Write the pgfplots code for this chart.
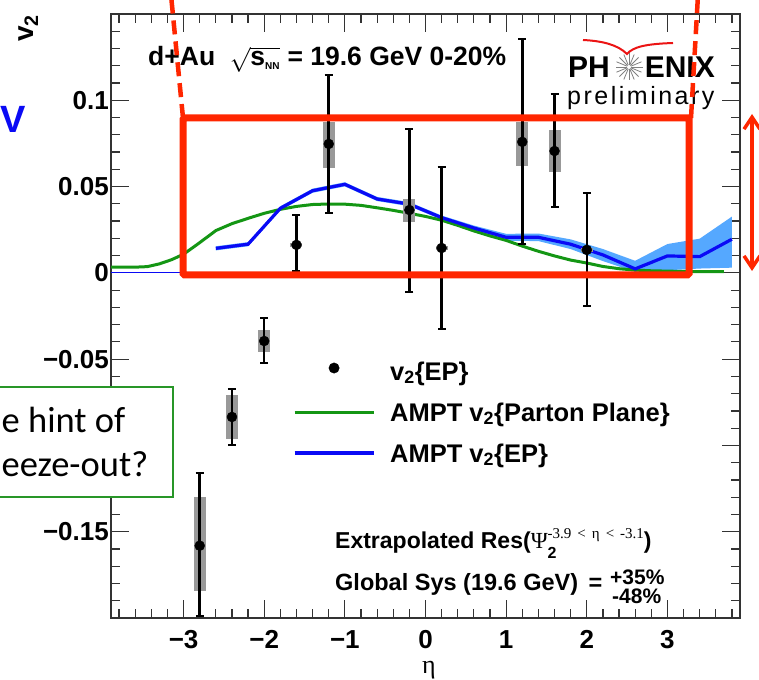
\documentclass[border=0pt]{standalone}
\usepackage{pgfplots}
\pgfplotsset{compat=1.18}
\usepackage{pgfplotstable}
\usepackage{fontspec}
\setmainfont{Liberation Sans}
\newfontfamily\timesfont{Liberation Serif}
\newfontfamily\calibrifont{Carlito}
\newfontfamily\prelimfont{Liberation Sans}[LetterSpace=10]
\usetikzlibrary{arrows.meta}

\definecolor{rootgreen}{RGB}{20,150,20}
\definecolor{rootblue}{RGB}{10,10,245}
\definecolor{bandblue}{RGB}{85,168,255}
\definecolor{annred}{RGB}{255,38,0}
\definecolor{logored}{RGB}{235,20,20}
\definecolor{boxgreen}{RGB}{40,150,40}

% x  y  stat+  stat-  sys+  sys-
\pgfplotstableread{
x    y       ep      em      sp      sm
-2.8 -0.1581 0.0423  0.0406  0.0284  0.0262
-2.4 -0.0835 0.0162  0.0162  0.0128  0.0127
-2.0 -0.0395 0.0135  0.0125  0.0065  0.0065
-1.6  0.0162 0.0174  0.0151  0.0010  0.0010
-1.2  0.0747 0.0400  0.0400  0.0127  0.0139
-0.2  0.0364 0.0470  0.0474  0.0064  0.0069
 0.2  0.0144 0.0470  0.0469  0.0010  0.0010
 1.2  0.0759 0.0596  0.0591  0.0115  0.0140
 1.6  0.0706 0.0331  0.0324  0.0121  0.0121
 2.0  0.0133 0.0330  0.0325  0.0010  0.0010
}\dataEP

\begin{document}
\begin{tikzpicture}
\path[use as bounding box] (0pt,0pt) rectangle (759pt,679pt);
\clip (0pt,0pt) rectangle (759pt,679pt);
\begin{axis}[
  at={(111pt,61pt)}, anchor=south west,
  scale only axis, width=629pt, height=604pt,
  xmin=-3.9, xmax=3.9, ymin=-0.2, ymax=0.15,
  xtick={-3,-2,-1,0,1,2,3},
  xticklabels={−3,−2,−1,0,1,2,3},
  ytick={-0.15,-0.1,-0.05,0,0.05,0.1},
  yticklabels={−0.15,,−0.05,0,0.05,0.1},
  minor xtick={-3.8,-3.6,-3.4,-3.2,-2.8,-2.6,-2.4,-2.2,-1.8,-1.6,-1.4,-1.2,-0.8,-0.6,-0.4,-0.2,0.2,0.4,0.6,0.8,1.2,1.4,1.6,1.8,2.2,2.4,2.6,2.8,3.2,3.4,3.6,3.8},
  minor ytick={-0.19,-0.18,-0.17,-0.16,-0.14,-0.13,-0.12,-0.11,-0.09,-0.08,-0.07,-0.06,-0.04,-0.03,-0.02,-0.01,0.01,0.02,0.03,0.04,0.06,0.07,0.08,0.09,0.11,0.12,0.13,0.14},
  tick align=inside, tick pos=both,
  major tick length=18pt, minor tick length=9pt,
  axis line style={black!80, line width=1.5pt},
  tick style={black!80, line width=1.2pt},
  xticklabel style={inner sep=0pt, yshift=-12pt, font=\bfseries\fontsize{26}{26}\selectfont},
  yticklabel style={inner sep=0pt, xshift=-2pt, font=\bfseries\fontsize{26}{26}\selectfont},
  legend style={draw=none, fill=none, inner sep=0pt, outer sep=0pt,
     at={(0.2893,0.4238)}, anchor=north west,
     column sep=15pt, row sep=17pt,
     cells={anchor=base west},
     nodes={inner sep=0pt, text height=18pt, text depth=6pt,
            font=\bfseries\fontsize{25.5}{25.5}\selectfont}},
]
% legend entries
\addlegendimage{legend image code/.code={\fill[black] (39.5pt,12pt) circle (5.2pt);}}
\addlegendentry{v\textsubscript{2}\{EP\}}
\addlegendimage{legend image code/.code={\draw[rootgreen, line width=3pt] (0pt,9pt) -- (79pt,9pt);}}
\addlegendentry{AMPT v\textsubscript{2}\{Parton Plane\}}
\addlegendimage{legend image code/.code={\draw[rootblue, line width=3.2pt] (0pt,9pt) -- (79pt,9pt);}}
\addlegendentry{AMPT v\textsubscript{2}\{EP\}}

% AMPT v2{EP} uncertainty band
\addplot[forget plot, fill=bandblue, draw=none] coordinates {
 (-2.6,0.0154) (-2.2,0.0178) (-1.8,0.0386) (-1.4,0.0488) (-1.0,0.0525) (-0.6,0.0440)
 (-0.2,0.0410) (0.2,0.0332) (0.6,0.0274) (1.0,0.0226) (1.4,0.0228) (1.8,0.0194)
 (2.2,0.0138) (2.6,0.0070) (3.0,0.0167) (3.4,0.0198) (3.8,0.0326)
 (3.8,0.0030) (3.4,0.0025) (3.0,0.0015) (2.6,0.0006) (2.2,0.0068) (1.8,0.0138)
 (1.4,0.0184) (1.0,0.0186) (0.6,0.0246) (0.2,0.0308) (-0.2,0.0386) (-0.6,0.0416)
 (-1.0,0.0501) (-1.4,0.0464) (-1.8,0.0362) (-2.2,0.0154) (-2.6,0.0130)
} -- cycle;

% AMPT v2{Parton Plane}
\addplot[forget plot, rootgreen, line width=3pt] coordinates {
 (-3.9,0.0033) (-3.6,0.0033) (-3.45,0.0036) (-3.3,0.0052) (-3.15,0.0076) (-3.0,0.0108)
 (-2.8,0.0175) (-2.6,0.0245) (-2.4,0.0285) (-2.2,0.0316) (-2.0,0.0345) (-1.8,0.0368)
 (-1.6,0.0385) (-1.4,0.0396) (-1.2,0.0399) (-1.0,0.0398) (-0.8,0.0391) (-0.6,0.0377)
 (-0.4,0.0362) (-0.2,0.0345) (0.0,0.0327) (0.2,0.0305) (0.4,0.0275) (0.6,0.0243)
 (0.8,0.0214) (1.0,0.0188) (1.2,0.0155) (1.4,0.0125) (1.6,0.0098) (1.8,0.0074)
 (2.0,0.0057) (2.2,0.0037) (2.4,0.0024) (2.6,0.0016) (2.8,0.0012) (3.2,0.0008) (3.7,0.0007)
};

% AMPT v2{EP}
\addplot[forget plot, rootblue, line width=1.2pt] coordinates {(-3.9,0) (-2.6,0)};
\addplot[forget plot, rootblue, line width=3.2pt] coordinates {
 (-2.6,0.0142) (-2.2,0.0166) (-1.8,0.0374) (-1.4,0.0476) (-1.0,0.0513) (-0.6,0.0428)
 (-0.2,0.0398) (0.2,0.0320) (0.6,0.0260) (1.0,0.0206) (1.4,0.0206) (1.8,0.0166)
 (2.2,0.0104) (2.6,0.0023) (3.0,0.0098) (3.4,0.0094) (3.8,0.0195)
};

% systematic boxes
\addplot[forget plot, only marks, mark=none,
  error bars/.cd, y dir=both, y explicit, error mark=none,
  error bar style={line width=12pt, black!40}]
  table[x=x, y=y, y error plus=sp, y error minus=sm] {\dataEP};
% data with statistical errors
\addplot[forget plot, only marks, mark=*, mark size=5pt, black,
  error bars/.cd, y dir=both, y explicit,
  error bar style={line width=2.5pt, black},
  error mark options={rotate=90, mark size=4pt, line width=2pt, black}]
  table[x=x, y=y, y error plus=ep, y error minus=em] {\dataEP};
\end{axis}

% axis titles
\node[rotate=90, anchor=base west, inner sep=0pt, font=\bfseries\fontsize{28}{28}\selectfont] at (33pt,637pt) {v\textsubscript{2}};
\node[inner sep=0pt, font=\timesfont\fontsize{26}{26}\selectfont] at (429pt,9pt) {η};

% texts inside the frame
\node[anchor=base west, inner sep=0pt, font=\bfseries\fontsize{26.5}{26.5}\selectfont] at (148pt,613pt)
  {d+Au\hspace{0.55em}$\sqrt{\mbox{s\textsubscript{\fontsize{10}{10}\selectfont NN}}}$ = 19.6 GeV 0-20\%};
\node[anchor=base west, inner sep=0pt, font=\bfseries\fontsize{23}{23}\selectfont] at (335pt,130pt)
  {Extrapolated Res({\timesfont\mdseries Ψ}\rlap{\raisebox{-10pt}{\fontsize{16}{16}\selectfont 2}}\raisebox{10pt}{\timesfont\mdseries\fontsize{15}{15}\selectfont -3.9\hspace{6pt}<\hspace{6pt}η\hspace{6pt}<\hspace{6pt}-3.1})};
\node[anchor=base west, inner sep=0pt, font=\bfseries\fontsize{23.5}{23.5}\selectfont] at (335pt,88pt)
  {Global Sys (19.6 GeV)\hspace{0.45em}=};
\node[anchor=base west, inner sep=0pt, font=\bfseries\fontsize{21}{21}\selectfont] at (610pt,94pt) {+35\%};
\node[anchor=base west, inner sep=0pt, font=\bfseries\fontsize{21}{21}\selectfont] at (612pt,75pt) {-48\%};

% PHENIX preliminary logo
\draw[logored, line width=2pt] (583pt,639pt) .. controls (603pt,638pt) and (618pt,634pt) .. (627pt,625pt)
   .. controls (633pt,632pt) and (645pt,635pt) .. (673pt,636pt);
\node[anchor=base west, inner sep=0pt, font=\bfseries\fontsize{30}{30}\selectfont] at (568pt,601pt) {PH};
\node[anchor=base east, inner sep=0pt, font=\bfseries\fontsize{30}{30}\selectfont] at (715pt,601pt) {ENIX};
\foreach \a in {0,22.5,...,350} {\draw[gray, line width=0.8pt] (629pt,612pt) ++(\a:2pt) -- ++(\a:11.5pt);}
\node[anchor=base west, inner sep=0pt, font=\prelimfont\fontsize{25}{25}\selectfont] at (567pt,574pt) {preliminary};

% slide annotations
\node[anchor=base west, inner sep=0pt, text=rootblue, font=\bfseries\fontsize{38}{38}\selectfont] at (0pt,546pt) {V};
\draw[boxgreen, line width=1.5pt, fill=white] (-5pt,292pt) rectangle (173pt,182pt);
\node[anchor=base west, inner sep=0pt, font=\calibrifont\fontsize{36.5}{36.5}\selectfont] at (1.5pt,246pt) {e hint of};
\node[anchor=base west, inner sep=0pt, font=\calibrifont\fontsize{36.5}{36.5}\selectfont] at (1.5pt,202pt) {eeze-out?};

\draw[annred, line width=4.5pt, dash pattern=on 14pt off 7pt] (183pt,561pt) -- (171pt,684pt);
\draw[annred, line width=4.5pt, dash pattern=on 14pt off 7pt] (691pt,561pt) -- (698pt,684pt);
\draw[annred, line width=7pt, rounded corners=1.5pt] (183pt,561pt) rectangle (689pt,404pt);
\draw[annred, line width=3.5pt, {Straight Barb[length=12pt,width=16pt]}-{Straight Barb[length=12pt,width=16pt]}] (752pt,565pt) -- (752pt,408pt);
\end{tikzpicture}
\end{document}
